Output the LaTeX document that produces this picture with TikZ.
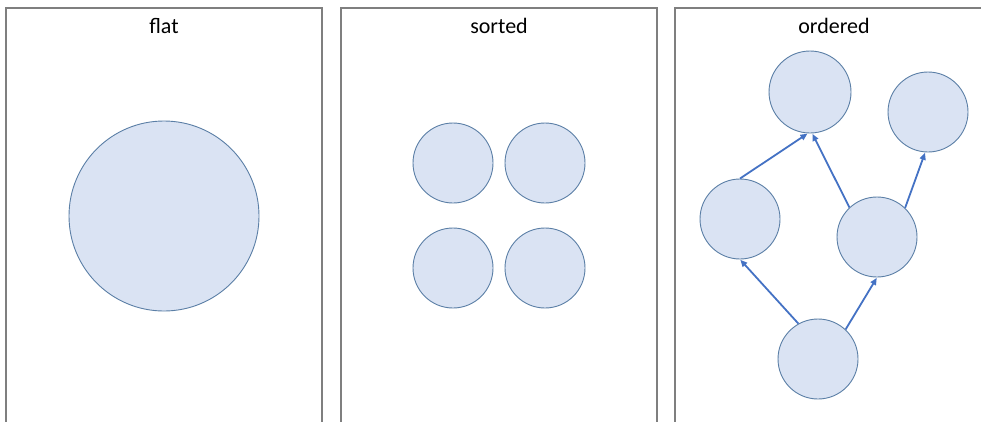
\documentclass[tikz,border=0pt]{standalone}
\usepackage{fontspec}
\setmainfont{Carlito}
\usetikzlibrary{arrows.meta}
\definecolor{circfill}{HTML}{DAE3F3}
\definecolor{circline}{HTML}{5B7FA6}
\definecolor{arrowblue}{HTML}{4472C4}
\definecolor{panelgray}{HTML}{7F7F7F}
\begin{document}
\begin{tikzpicture}[x=1pt,y=-1pt,
  panel/.style={draw=panelgray,line width=1.3pt},
  title/.style={anchor=base,font=\fontsize{22}{26}\selectfont,text=black,inner sep=0pt},
  blob/.style={circle,draw=circline,fill=circfill,line width=0.9pt,inner sep=0pt,minimum size=80pt},
  bigblob/.style={blob,minimum size=190pt},
  link/.style={draw=arrowblue,line width=1.8pt,-{Triangle[length=7pt,width=6pt]},shorten >=0.5pt}]
\useasboundingbox (0,0) rectangle (981,421);
\begin{scope}
\clip (0,0) rectangle (981,421);
\draw[panel] (6,430) -- (6,8) -- (322,8) -- (322,430);
\draw[panel] (341,430) -- (341,8) -- (657,8) -- (657,430);
\draw[panel] (675,430) -- (675,8) -- (995,8) -- (995,430);
\end{scope}
\node[title] (t1) at (164,33) {flat};
\node[title] (t2) at (499,33) {sorted};
\node[title] (t3) at (834,33) {ordered};
% flat
\node[bigblob] (f) at (164,216) {};
% sorted
\node[blob] (s1) at (453,163) {};
\node[blob] (s2) at (545,163) {};
\node[blob] (s3) at (453,268) {};
\node[blob] (s4) at (545,268) {};
% ordered
\node[blob,minimum size=82pt] (top) at (810,92) {};
\node[blob] (tr) at (928,112) {};
\node[blob] (lf) at (740,219) {};
\node[blob] (rm) at (877,237) {};
\node[blob] (bt) at (818,359) {};
\draw[link] (lf.north) -- (top.-93);
\draw[link] (rm.133) -- (top.-87);
\draw[link] (rm.46) -- (tr.-94);
\draw[link] (bt.119) -- (lf.south);
\draw[link] (bt.47) -- (rm.south);
\end{tikzpicture}
\end{document}
